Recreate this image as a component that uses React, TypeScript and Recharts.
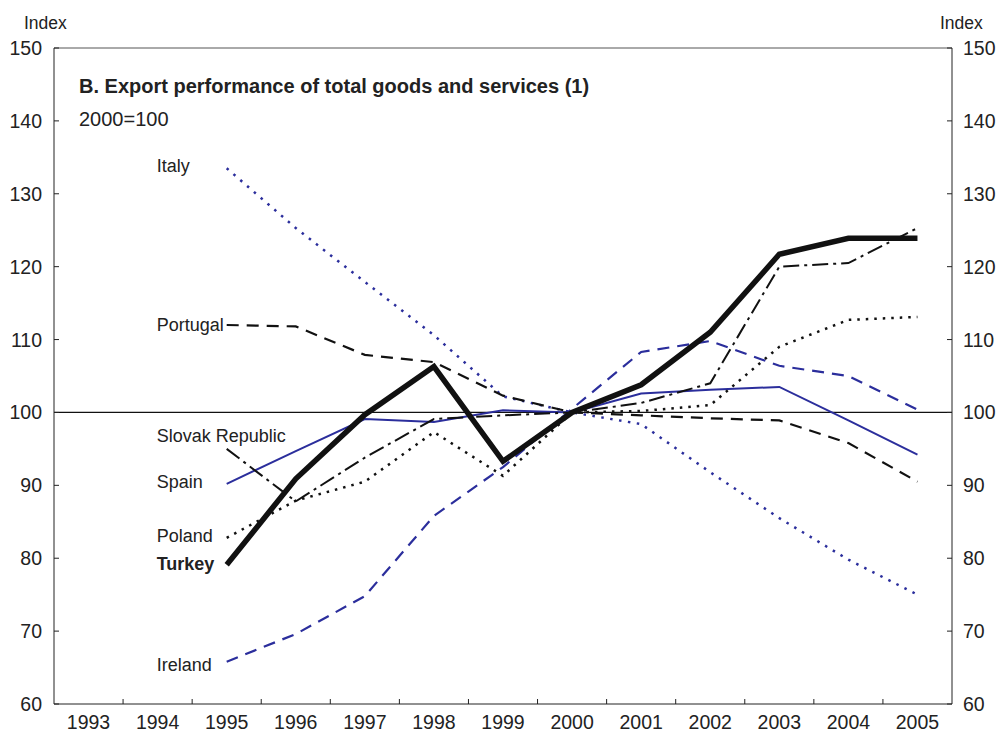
import React from "react";
import { LineChart, Line, XAxis, YAxis, ReferenceLine } from "recharts";

const YEARS = ["1993", "1994", "1995", "1996", "1997", "1998", "1999", "2000", "2001", "2002", "2003", "2004", "2005"];
const Y_TICKS = [60, 70, 80, 90, 100, 110, 120, 130, 140, 150];

const TURKEY = [null, null, 79.1, 90.9, 99.7, 106.3, 93.3, 100.0, 103.8, 111.0, 121.7, 123.9, 123.9];
const ITALY = [null, null, 133.5, 125.3, 117.9, 110.6, 102.2, 100.0, 98.4, 91.8, 85.5, 79.8, 75.0];
const PORTUGAL = [null, null, 112.0, 111.8, 107.9, 106.9, 102.3, 100.0, 99.6, 99.2, 98.9, 95.8, 90.5];
const SLOVAK = [null, null, 95.0, 87.8, 93.8, 99.1, 99.6, 100.0, 101.3, 104.0, 120.0, 120.5, 125.3];
const SPAIN = [null, null, 90.2, 94.7, 99.1, 98.7, 100.3, 100.0, 102.6, 103.1, 103.5, 98.9, 94.2];
const POLAND = [null, null, 82.8, 87.9, 90.5, 97.3, 91.3, 100.0, 100.2, 101.0, 109.0, 112.7, 113.1];
const IRELAND = [null, null, 65.8, 69.6, 74.8, 85.8, 92.5, 100.5, 108.3, 109.8, 106.4, 105.0, 100.4];

const data = YEARS.map((year, i) => ({
  year,
  turkey: TURKEY[i],
  italy: ITALY[i],
  portugal: PORTUGAL[i],
  slovak: SLOVAK[i],
  spain: SPAIN[i],
  poland: POLAND[i],
  ireland: IRELAND[i],
}));

const FONT = "'Liberation Sans', Arial, Helvetica, sans-serif";
const BLUE = "#2b2e9c";
const W = 1001;
const H = 733;
const M = { top: 48, right: 9, bottom: 4, left: 14 };
const AXIS_W = 40;
const PLOT_W = W - M.left - M.right - 2 * AXIS_W;
const HALF_BAND = PLOT_W / YEARS.length / 2;

const LeftTick = (p: any) => (
  <g>
    <line x1={p.x} y1={p.y} x2={p.x + 5} y2={p.y} stroke="#222" />
    <text x={p.x - 12} y={p.y + 7} textAnchor="end" fontSize={19.5} fontFamily={FONT} fill="#222">
      {p.payload.value}
    </text>
  </g>
);

const RightTick = (p: any) => (
  <g>
    <line x1={p.x} y1={p.y} x2={p.x - 5} y2={p.y} stroke="#222" />
    <text x={p.x + 11} y={p.y + 7} textAnchor="start" fontSize={19.5} fontFamily={FONT} fill="#222">
      {p.payload.value}
    </text>
  </g>
);

const BottomTick = (p: any) => (
  <g>
    {p.index < YEARS.length - 1 && (
      <line x1={p.x + HALF_BAND} y1={p.y} x2={p.x + HALF_BAND} y2={p.y - 5} stroke="#222" />
    )}
    <text x={p.x} y={p.y + 25} textAnchor="middle" fontSize={19.5} fontFamily={FONT} fill="#222">
      {p.payload.value}
    </text>
  </g>
);

// series name written to the left of the first point
const nameLabel = (name: string, dy: number, bold = false) => (p: any) => {
  if (p.index !== 2) return null;
  return (
    <text
      x={p.x - 70}
      y={p.y + dy}
      textAnchor="start"
      dominantBaseline="central"
      fontSize={18}
      fontWeight={bold ? "bold" : "normal"}
      fontFamily={FONT}
      fill="#222"
    >
      {name}
    </text>
  );
};

export default function App() {
  return (
    <div style={{ position: "absolute", left: 0, top: 0, width: W, height: H, background: "#fff" }}>
      <LineChart width={W} height={H} data={data} margin={M}>
        <XAxis
          dataKey="year"
          padding={{ left: HALF_BAND, right: HALF_BAND }}
          height={25}
          interval={0}
          tickLine={false}
          tickSize={0}
          tickMargin={0}
          axisLine={{ stroke: "#222" }}
          tick={BottomTick}
        />
        <YAxis
          yAxisId="left"
          domain={[60, 150]}
          ticks={Y_TICKS}
          interval={0}
          width={AXIS_W}
          tickLine={false}
          tickSize={0}
          tickMargin={0}
          axisLine={{ stroke: "#222" }}
          tick={LeftTick}
        />
        <YAxis
          yAxisId="right"
          orientation="right"
          domain={[60, 150]}
          ticks={Y_TICKS}
          interval={0}
          width={AXIS_W}
          tickLine={false}
          tickSize={0}
          tickMargin={0}
          axisLine={{ stroke: "#222" }}
          tick={RightTick}
        />
        <ReferenceLine yAxisId="left" y={150} stroke="#555" strokeWidth={1} />
        <ReferenceLine yAxisId="left" y={100} stroke="#111" strokeWidth={1.2} />

        <Line yAxisId="right" dataKey="italy" type="linear" stroke={BLUE} strokeWidth={2.5} strokeDasharray="2.5 6.5" dot={false} isAnimationActive={false} label={nameLabel("Italy", -2)} />
        <Line yAxisId="right" dataKey="ireland" type="linear" stroke={BLUE} strokeWidth={2.2} strokeDasharray="12 8" dot={false} isAnimationActive={false} label={nameLabel("Ireland", 3)} />
        <Line yAxisId="right" dataKey="spain" type="linear" stroke={BLUE} strokeWidth={2} dot={false} isAnimationActive={false} label={nameLabel("Spain", -2)} />
        <Line yAxisId="left" dataKey="portugal" type="linear" stroke="#111" strokeWidth={2.2} strokeDasharray="12 8" dot={false} isAnimationActive={false} label={nameLabel("Portugal", 0)} />
        <Line yAxisId="left" dataKey="poland" type="linear" stroke="#111" strokeWidth={2.5} strokeDasharray="2.5 6" dot={false} isAnimationActive={false} label={nameLabel("Poland", -2)} />
        <Line yAxisId="left" dataKey="slovak" type="linear" stroke="#111" strokeWidth={2} strokeDasharray="16 5 3 5" dot={false} isAnimationActive={false} label={nameLabel("Slovak Republic", -13)} />
        <Line yAxisId="left" dataKey="turkey" type="linear" stroke="#111" strokeWidth={5.5} dot={false} isAnimationActive={false} label={nameLabel("Turkey", -1, true)} />
      </LineChart>
      <svg width={W} height={H} style={{ position: "absolute", left: 0, top: 0, pointerEvents: "none" }}>
        <text x={24} y={29} fontSize={17.5} fontFamily={FONT} fill="#222">Index</text>
        <text x={940} y={29} fontSize={17.5} fontFamily={FONT} fill="#222">Index</text>
        <text x={79} y={93} fontSize={20} fontWeight="bold" fontFamily={FONT} fill="#222">
          B. Export performance of total goods and services (1)
        </text>
        <text x={79} y={126} fontSize={20} fontFamily={FONT} fill="#222">2000=100</text>
      </svg>
    </div>
  );
}
